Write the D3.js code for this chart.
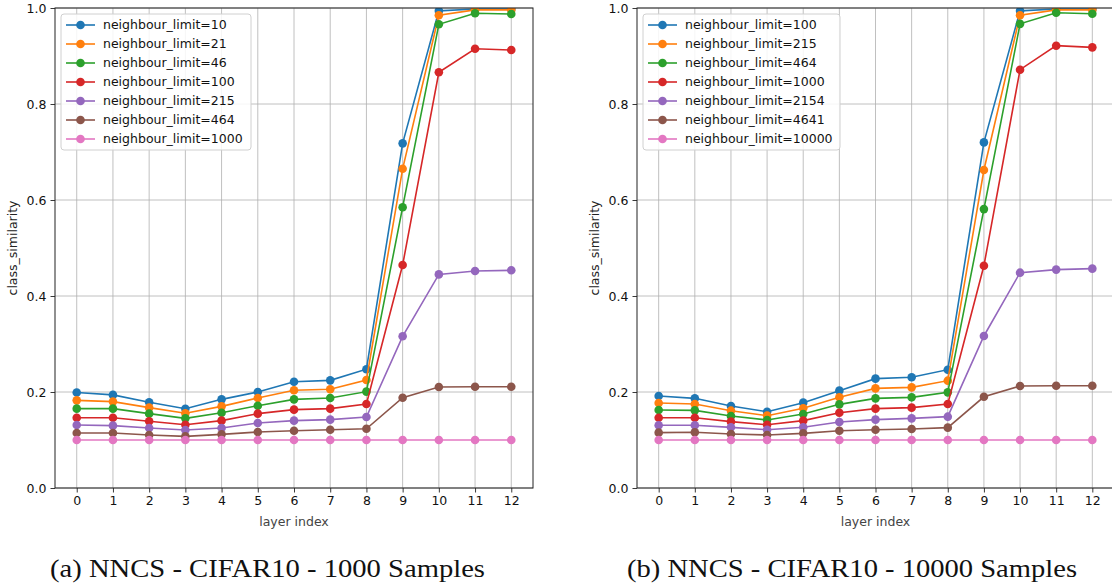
<!DOCTYPE html>
<html>
<head>
<meta charset="utf-8">
<script src="https://cdn.jsdelivr.net/npm/d3@7"></script>
<style>
  html, body { margin: 0; padding: 0; background: #fff; }
  svg { display: block; }
</style>
</head>
<body>
<svg id="chart" width="1112" height="583"></svg>
<script>
// ---------- data ----------
const layers = [0, 1, 2, 3, 4, 5, 6, 7, 8, 9, 10, 11, 12];
const xTicks = [0, 1, 2, 3, 4, 5, 6, 7, 8, 9, 10, 11, 12];
const yTicks = [0.0, 0.2, 0.4, 0.6, 0.8, 1.0];
const colors = ["#1f77b4", "#ff7f0e", "#2ca02c", "#d62728", "#9467bd", "#8c564b", "#e377c2"];

const leftLabels = ["neighbour_limit=10", "neighbour_limit=21", "neighbour_limit=46", "neighbour_limit=100",
                    "neighbour_limit=215", "neighbour_limit=464", "neighbour_limit=1000"];
const left10   = [0.199, 0.194, 0.1785, 0.165, 0.1847, 0.200, 0.2215, 0.2243, 0.2475, 0.718, 0.994, 0.998, 0.998];
const left21   = [0.1826, 0.180, 0.1674, 0.1556, 0.1701, 0.1875, 0.2035, 0.2056, 0.225, 0.665, 0.985, 0.996, 0.996];
const left46   = [0.1653, 0.1653, 0.1549, 0.1451, 0.1569, 0.1715, 0.1847, 0.1875, 0.2007, 0.585, 0.966, 0.989, 0.9875];
const left100  = [0.1465, 0.1465, 0.1389, 0.1319, 0.1403, 0.1549, 0.1632, 0.1653, 0.175, 0.4646, 0.866, 0.915, 0.9125];
const left215  = [0.1313, 0.1299, 0.125, 0.1208, 0.125, 0.1354, 0.1403, 0.1424, 0.148, 0.316, 0.445, 0.452, 0.4535];
const left464  = [0.1146, 0.1146, 0.1104, 0.1076, 0.1118, 0.1167, 0.1194, 0.1215, 0.1233, 0.188, 0.2104, 0.211, 0.211];
const left1000 = [0.1, 0.1, 0.1, 0.1, 0.1, 0.1, 0.1, 0.1, 0.1, 0.1, 0.1, 0.1, 0.1];

const rightLabels = ["neighbour_limit=100", "neighbour_limit=215", "neighbour_limit=464", "neighbour_limit=1000",
                     "neighbour_limit=2154", "neighbour_limit=4641", "neighbour_limit=10000"];
const right100   = [0.1917, 0.1868, 0.1708, 0.159, 0.1778, 0.2028, 0.2278, 0.2306, 0.2465, 0.720, 0.994, 0.998, 0.998];
const right215   = [0.1771, 0.175, 0.1611, 0.1507, 0.166, 0.1889, 0.2076, 0.2097, 0.2236, 0.6625, 0.985, 0.996, 0.996];
const right464   = [0.1625, 0.1618, 0.150, 0.1417, 0.1542, 0.1743, 0.1868, 0.1889, 0.1993, 0.581, 0.967, 0.990, 0.988];
const right1000  = [0.1465, 0.1465, 0.1382, 0.1319, 0.1403, 0.1569, 0.1653, 0.1674, 0.175, 0.463, 0.8715, 0.9215, 0.918];
const right2154  = [0.1306, 0.1306, 0.1264, 0.1215, 0.1264, 0.1375, 0.1424, 0.1451, 0.1486, 0.3167, 0.4486, 0.455, 0.457];
const right4641  = [0.1153, 0.116, 0.1125, 0.1104, 0.1139, 0.1194, 0.1215, 0.1229, 0.1257, 0.190, 0.2125, 0.213, 0.213];
const right10000 = [0.1, 0.1, 0.1, 0.1, 0.1, 0.1, 0.1, 0.1, 0.1, 0.1, 0.1, 0.1, 0.1];

const captions = ["(a) NNCS - CIFAR10 - 1000 Samples", "(b) NNCS - CIFAR10 - 10000 Samples"];
const xLabel = "layer index";
const yLabel = "class_similarity";

// ---------- drawing ----------
const svg = d3.select("#chart");
const font = "'DejaVu Sans', sans-serif";

const panels = [
  { x0: 55, x1: 533, labels: leftLabels,
    series: [left10, left21, left46, left100, left215, left464, left1000],
    caption: captions[0], capX: 267.5, capW: 435, legendW: 190 },
  { x0: 637, x1: 1114, labels: rightLabels,
    series: [right100, right215, right464, right1000, right2154, right4641, right10000],
    caption: captions[1], capX: 852, capW: 450, legendW: 197 }
];
const yTop = 8, yBot = 488;

panels.forEach((p, pi) => {
  const x = d3.scaleLinear().domain([-0.6, 12.6]).range([p.x0, p.x1]);
  const y = d3.scaleLinear().domain([0, 1]).range([yBot, yTop]);
  const g = svg.append("g");

  const clipId = "clip" + pi;
  svg.append("defs").append("clipPath").attr("id", clipId)
    .append("rect").attr("x", p.x0).attr("y", yTop)
    .attr("width", p.x1 - p.x0).attr("height", yBot - yTop);

  // grid
  const grid = g.append("g");
  grid.selectAll("line.vx").data(xTicks).enter().append("line")
    .attr("x1", d => x(d)).attr("x2", d => x(d)).attr("y1", yTop).attr("y2", yBot)
    .attr("stroke", "#b0b0b0").attr("stroke-width", 0.8);
  grid.selectAll("line.hy").data(yTicks).enter().append("line")
    .attr("y1", d => y(d)).attr("y2", d => y(d)).attr("x1", p.x0).attr("x2", p.x1)
    .attr("stroke", "#b0b0b0").attr("stroke-width", 0.8);

  // series
  const plot = g.append("g").attr("clip-path", `url(#${clipId})`);
  const line = d3.line().x((d, i) => x(layers[i])).y(d => y(d));
  p.series.forEach((s, si) => {
    const sg = plot.append("g");
    sg.append("path").datum(s).attr("d", line)
      .attr("fill", "none").attr("stroke", colors[si]).attr("stroke-width", 1.6);
    sg.selectAll("circle").data(s).enter().append("circle")
      .attr("cx", (d, i) => x(layers[i])).attr("cy", d => y(d)).attr("r", 4.3)
      .attr("fill", colors[si]);
  });

  // axes
  const xAxis = d3.axisBottom(x).tickValues(xTicks).tickFormat(d3.format("d")).tickSize(4.5).tickPadding(4);
  const yAxis = d3.axisLeft(y).tickValues(yTicks).tickFormat(d3.format(".1f")).tickSize(4.5).tickPadding(4);
  const gx = g.append("g").attr("transform", `translate(0,${yBot})`).call(xAxis);
  const gy = g.append("g").attr("transform", `translate(${p.x0},0)`).call(yAxis);
  [gx, gy].forEach(a => {
    a.select(".domain").remove();
    a.selectAll("text").attr("font-family", font).attr("font-size", 12.5).attr("fill", "#111");
    a.selectAll("line").attr("stroke", "#222").attr("stroke-width", 0.9);
  });

  // spines
  g.append("rect").attr("x", p.x0).attr("y", yTop).attr("width", p.x1 - p.x0).attr("height", yBot - yTop)
    .attr("fill", "none").attr("stroke", "#222").attr("stroke-width", 1);

  // labels
  g.append("text").attr("x", (p.x0 + Math.min(p.x1, 1112 + 2)) / 2).attr("y", 526)
    .attr("text-anchor", "middle").attr("font-family", font).attr("font-size", 12.5)
    .attr("fill", "#444").text(xLabel);
  g.append("text").attr("transform", `translate(${p.x0 - 38},${(yTop + yBot) / 2}) rotate(-90)`)
    .attr("text-anchor", "middle").attr("font-family", font).attr("font-size", 12.5)
    .attr("fill", "#222").text(yLabel);

  // legend
  const lx = p.x0 + 6, ly = 14, rowH = 19;
  const lg = g.append("g");
  lg.append("rect").attr("x", lx).attr("y", ly).attr("width", p.legendW).attr("height", 136)
    .attr("rx", 3).attr("fill", "#fff").attr("fill-opacity", 0.85)
    .attr("stroke", "#d0d0d0").attr("stroke-width", 1);
  p.labels.forEach((lab, li) => {
    const cy = ly + 11 + li * rowH;
    lg.append("line").attr("x1", lx + 5).attr("x2", lx + 34).attr("y1", cy).attr("y2", cy)
      .attr("stroke", colors[li]).attr("stroke-width", 1.6);
    lg.append("circle").attr("cx", lx + 19.5).attr("cy", cy).attr("r", 4.3).attr("fill", colors[li]);
    lg.append("text").attr("x", lx + 42).attr("y", cy).attr("dy", "0.35em")
      .attr("font-family", font).attr("font-size", 12.5).attr("fill", "#111").text(lab);
  });

  // caption
  svg.append("text").attr("x", p.capX).attr("y", 577).attr("text-anchor", "middle")
    .attr("font-family", "'Liberation Serif', 'DejaVu Serif', serif").attr("font-size", 26)
    .attr("textLength", p.capW).attr("lengthAdjust", "spacingAndGlyphs")
    .attr("fill", "#111").text(p.caption);
});
</script>
</body>
</html>
